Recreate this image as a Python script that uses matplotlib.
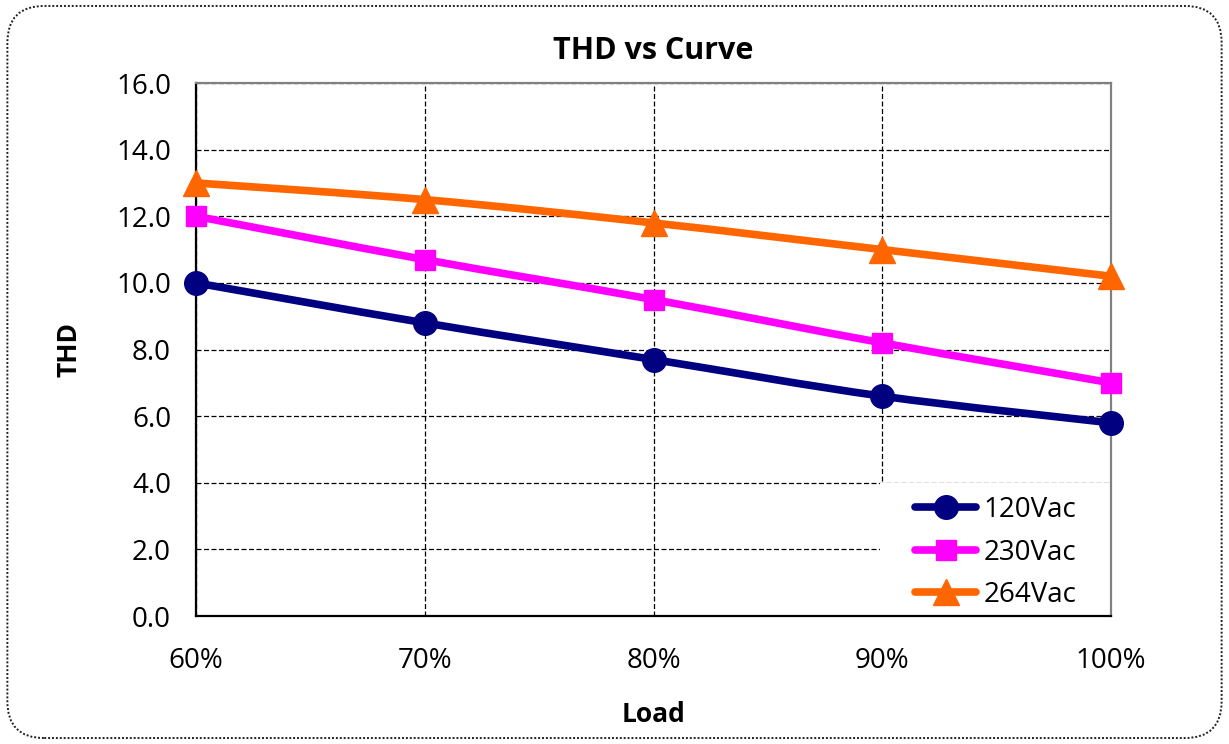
import matplotlib.pyplot as plt
import numpy as np
from matplotlib.path import Path
from matplotlib.patches import PathPatch, FancyBboxPatch, Rectangle
from matplotlib.lines import Line2D

plt.rcParams['font.family'] = ['Open Sans', 'DejaVu Sans']

loads = [60, 70, 80, 90, 100]
load_labels = ['60%', '70%', '80%', '90%', '100%']
thd_120 = [10.0, 8.8, 7.7, 6.6, 5.8]
thd_230 = [12.0, 10.7, 9.5, 8.2, 7.0]
thd_264 = [13.0, 12.5, 11.8, 11.0, 10.2]

series = [
    ('120Vac', thd_120, '#000080', 'o', 17),
    ('230Vac', thd_230, '#ff00ff', 's', 15),
    ('264Vac', thd_264, '#ff6600', '^', 19),
]


def smooth_path(x, y):
    # Excel-style smoothed line as cubic bezier segments
    x = np.asarray(x, float)
    y = np.asarray(y, float)
    verts = [(x[0], y[0])]
    codes = [Path.MOVETO]
    n = len(x)
    for i in range(n - 1):
        p0 = np.array([x[max(i - 1, 0)], y[max(i - 1, 0)]])
        p1 = np.array([x[i], y[i]])
        p2 = np.array([x[i + 1], y[i + 1]])
        p3 = np.array([x[min(i + 2, n - 1)], y[min(i + 2, n - 1)]])
        c1 = p1 + (p2 - p0) / 6
        c2 = p2 - (p3 - p1) / 6
        verts += [tuple(c1), tuple(c2), tuple(p2)]
        codes += [Path.CURVE4] * 3
    return Path(verts, codes)


fig = plt.figure(figsize=(12.29, 7.44), dpi=100)
ax = fig.add_axes([0.1595, 0.172, 0.7445, 0.7164])

handles = []
for name, vals, col, mk, ms in series:
    ax.add_patch(PathPatch(smooth_path(loads, vals), facecolor='none', edgecolor=col,
                           lw=5.5, capstyle='round', zorder=3))
    ax.plot(loads, vals, linestyle='none', marker=mk, color=col, markersize=ms,
            clip_on=False, zorder=4)
    handles.append(Line2D([], [], color=col, lw=5.5, marker=mk, markersize=ms,
                          solid_capstyle='round', label=name))

ax.set_xlim(60, 100)
ax.set_ylim(0, 16)
ax.set_xticks(loads)
ax.set_xticklabels(load_labels)
ax.set_yticks(np.arange(0, 17, 2))
ax.set_yticklabels([f'{v:.1f}' for v in np.arange(0, 17, 2)])
ax.tick_params(labelsize=20, length=0)
ax.tick_params(axis='x', pad=22)
ax.tick_params(axis='y', pad=18)
ax.grid(True, color='black', linestyle=(0, (4, 2)), linewidth=0.9)
ax.set_axisbelow(True)
for s in ['left', 'bottom']:
    ax.spines[s].set_color('black')
    ax.spines[s].set_linewidth(1.6)
for s in ['top', 'right']:
    ax.spines[s].set_color('#808080')
    ax.spines[s].set_linewidth(1.6)

ax.set_title('THD vs Curve', fontsize=22, fontweight='bold', pad=17)
ax.set_xlabel('Load', fontsize=19, fontweight='bold', labelpad=19)
ax.set_ylabel('THD', fontsize=19, fontweight='bold', labelpad=24)

# white legend area over the grid
ax.add_patch(Rectangle((0.748, 0.0), 0.252, 0.25, transform=ax.transAxes,
                       facecolor='white', edgecolor='none', zorder=2.5))

leg = ax.legend(handles=handles, loc='lower right', bbox_to_anchor=(0.962, 0.013),
                fontsize=20, frameon=False, handlelength=2.2,
                handletextpad=0.25, borderaxespad=0, labelspacing=0.52, borderpad=0)
leg.set_zorder(5)

border = FancyBboxPatch((0.006, 0.008), 0.988, 0.984, boxstyle='round,pad=0,rounding_size=0.03',
                        transform=fig.transFigure, facecolor='none', edgecolor='#202020',
                        lw=1.4, linestyle=(0, (1, 1)), mutation_aspect=1229 / 744)
fig.patches.append(border)

fig.savefig('out.png', dpi=100)
